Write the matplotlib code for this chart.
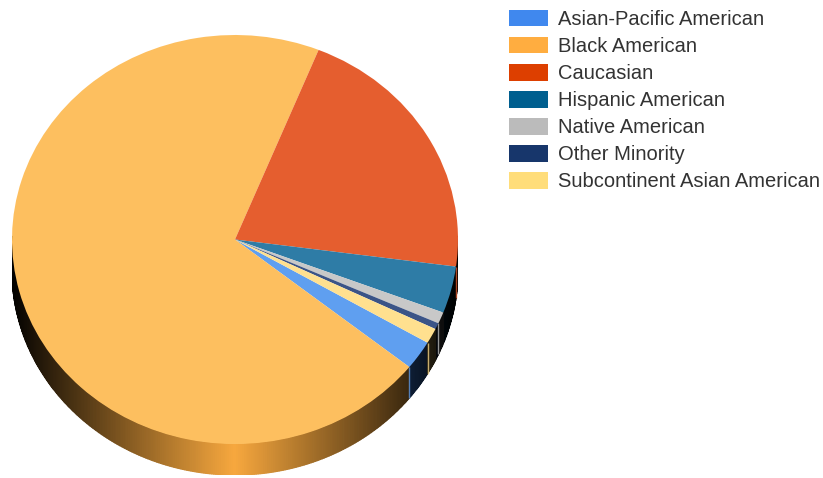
import numpy as np
import matplotlib
matplotlib.use("Agg")
import matplotlib.pyplot as plt
from matplotlib.patches import Patch
from matplotlib.colors import to_rgb

categories = ["Asian-Pacific American", "Black American", "Caucasian", "Hispanic American",
              "Native American", "Other Minority", "Subcontinent Asian American"]
values = [2.3, 70.4, 21.0, 3.7, 0.9, 0.5, 1.2]
legend_colors = ["#4088EE", "#FFAD40", "#DD3F00", "#005F8F", "#BBBBBB", "#17366B", "#FFDD7A"]
top_colors = ["#5F9FF0", "#FDBF5F", "#E55E2F", "#2E7CA6", "#C8C8C8", "#3B5487", "#FFE08F"]
lit_edges = ["Asian-Pacific American", "Caucasian", "Native American", "Subcontinent Asian American"]

plt.rcParams['font.family'] = ['Liberation Sans', 'DejaVu Sans']
W, H = 823, 478
fig = plt.figure(figsize=(W / 100, H / 100), dpi=100)
L, R, T, B = 12, 458, 35, 475
ax = fig.add_axes([L / W, 1 - B / H, (R - L) / W, (B - T) / H])
ry = 204.5
depth = 31.0 / ry

wedges, _ = ax.pie(values, colors=top_colors, startangle=-30.3, counterclock=False, radius=1,
                   wedgeprops=dict(linewidth=0, zorder=3))
ax.set_aspect('auto')
ax.set_xlim(-1, 1)
ax.set_ylim(-1 - depth, 1)

# extruded rim, shaded by horizontal position
for w, col, top, name in zip(wedges, legend_colors, top_colors, categories):
    base = np.array(to_rgb(col))
    t1, t2 = w.theta1, w.theta2
    edges = np.arange(np.floor(t1), np.ceil(t2) + 1, 0.5)
    edges = np.clip(edges, t1, t2)
    for a, b in zip(edges[:-1], edges[1:]):
        if b <= a:
            continue
        am = np.deg2rad((a + b) / 2)
        if np.sin(am) > 0.02:
            continue
        f = 0.97 * (1 - abs(np.cos(am))) ** 0.95
        xs = np.cos(np.deg2rad([a, b, b, a]))
        ys = np.sin(np.deg2rad([a, b, b, a])) + np.array([0, 0, -depth, -depth])
        ax.fill(xs, ys, facecolor=base * f, edgecolor=base * f, lw=0.9, zorder=2)
    if name in lit_edges:
        c, s = np.cos(np.deg2rad(t1)), np.sin(np.deg2rad(t1))
        ax.plot([c, c], [s, s - depth], color=top, lw=1.0, alpha=0.75, zorder=2.5,
                solid_capstyle='butt')

handles = [Patch(facecolor=c, edgecolor='none') for c in legend_colors]
fig.legend(handles, categories, loc='upper left', bbox_to_anchor=(509 / W, 1 - 10 / H),
           frameon=False, fontsize=14.5, borderpad=0, borderaxespad=0,
           handlelength=1.94, handleheight=0.88, handletextpad=0.5, labelspacing=0.39,
           labelcolor='#333333')
fig.savefig("out.png", dpi=100)
